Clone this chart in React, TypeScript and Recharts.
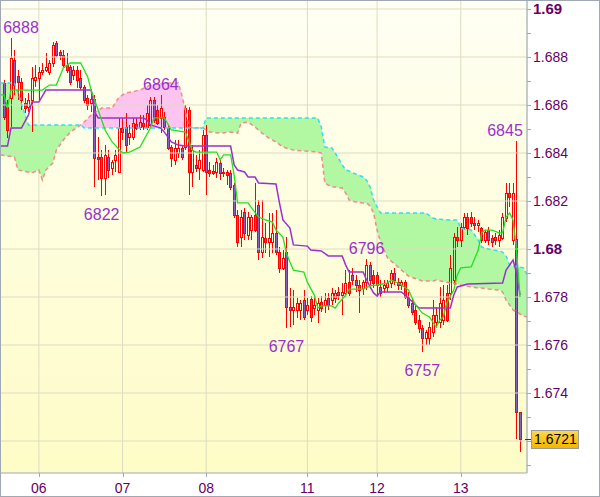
import React from "react";
import { ComposedChart, XAxis, YAxis, CartesianGrid, Bar, Line, Area, Scatter, ReferenceLine } from "recharts";

const FONT = "Arial, 'Liberation Sans', Helvetica, sans-serif";

// ---------- candles (hourly bars) ----------
const opens = [
  1.68692,1.68592,1.68629,1.68787,1.68721,1.68696,1.68608,1.68592,1.68621,1.68704,
  1.68712,1.68737,1.68746,1.68737,1.68775,1.68858,1.68821,1.68808,1.68767,1.68758,
  1.68725,1.68746,1.68712,1.68675,1.68629,1.68608,1.68625,1.68383,1.68383,1.68296,
  1.68383,1.68337,1.68371,1.68321,1.68504,1.68508,1.68467,1.68467,1.68521,1.68508,
  1.68525,1.68508,1.68517,1.68621,1.68579,1.68546,1.6855,1.68504,1.68425,1.68371,
  1.684,1.68421,1.68425,1.68579,1.68321,1.6835,1.68337,1.68329,1.68475,1.68329,
  1.68325,1.68321,1.68358,1.68321,1.68321,1.68317,1.68267,1.68142,1.6805,1.68154,
  1.68058,1.68079,1.68142,1.68183,1.67988,1.68046,1.68029,1.68029,1.68067,1.67988,
  1.67921,1.67988,1.67758,1.67746,1.67746,1.67746,1.67787,1.67746,1.67792,1.67754,
  1.67746,1.67779,1.67767,1.67796,1.67787,1.67796,1.67821,1.67808,1.67817,1.67862,
  1.67892,1.67871,1.6785,1.67837,1.67862,1.67933,1.67892,1.67892,1.67842,1.67837,
  1.67842,1.67858,1.679,1.67862,1.6785,1.67862,1.678,1.67775,1.67746,1.67704,
  1.67671,1.67629,1.67629,1.67654,1.67696,1.67696,1.67704,1.67817,1.67817,1.67871,
  1.6805,1.68037,1.68092,1.68133,1.68133,1.68108,1.681,1.68087,1.68037,1.68079,
  1.68046,1.6805,1.68037,1.68046,1.68129,1.68233,1.68037,1.68042,1.67321,
];
const highs = [
  1.68704,1.68621,1.6888,1.68829,1.68746,1.68712,1.68629,1.6865,1.68758,1.68767,
  1.68758,1.68775,1.68817,1.68787,1.68862,1.68867,1.68829,1.68829,1.68817,1.68767,
  1.68762,1.68762,1.68746,1.68683,1.68642,1.6865,1.68642,1.68467,1.68412,1.68433,
  1.68412,1.68371,1.68412,1.68546,1.68546,1.68567,1.68517,1.68546,1.68546,1.68558,
  1.68558,1.686,1.68633,1.68633,1.686,1.6864,1.68571,1.68517,1.68433,1.68454,
  1.68454,1.68433,1.686,1.68592,1.68433,1.68392,1.68412,1.68496,1.68517,1.68362,
  1.6835,1.68379,1.68371,1.68337,1.68329,1.68329,1.68275,1.68162,1.68162,1.68171,
  1.68154,1.68142,1.68275,1.68204,1.68204,1.68108,1.6815,1.6815,1.68162,1.68008,
  1.67996,1.6805,1.67837,1.67829,1.67796,1.67787,1.67829,1.67796,1.67804,1.678,
  1.67796,1.67804,1.67817,1.67817,1.67837,1.67829,1.67842,1.67858,1.67912,1.67912,
  1.67921,1.67892,1.67871,1.67871,1.6796,1.67946,1.67912,1.67904,1.67871,1.67871,
  1.67871,1.67912,1.67921,1.67879,1.67871,1.67871,1.67821,1.67796,1.67767,1.67725,
  1.67683,1.67662,1.67696,1.67787,1.67758,1.67842,1.6785,1.6785,1.67975,1.68067,
  1.68092,1.68108,1.6815,1.6815,1.68154,1.68133,1.68121,1.68092,1.68079,1.68092,
  1.68058,1.68067,1.68079,1.6815,1.68275,1.68275,1.68275,1.6845,1.67321,
];
const lows = [
  1.68537,1.68462,1.68508,1.68642,1.68621,1.68579,1.68567,1.68571,1.68487,1.68675,
  1.68621,1.68725,1.68737,1.68725,1.68758,1.688,1.68787,1.68758,1.68733,1.68683,
  1.68704,1.68671,1.68662,1.68608,1.68579,1.68571,1.68258,1.68287,1.6822,1.68225,
  1.68296,1.68308,1.68321,1.68317,1.68454,1.68404,1.68433,1.68454,1.68496,1.68496,
  1.68496,1.68496,1.68508,1.68525,1.68517,1.68483,1.68496,1.68412,1.68342,1.6835,
  1.68379,1.68371,1.68412,1.68225,1.68258,1.68321,1.68287,1.68321,1.68225,1.683,
  1.68308,1.68296,1.68287,1.683,1.68267,1.68246,1.68129,1.68008,1.68008,1.68037,
  1.68037,1.68037,1.68071,1.67954,1.67963,1.67983,1.67967,1.67983,1.67975,1.679,
  1.67912,1.6767,1.67675,1.67683,1.67712,1.67704,1.67704,1.67725,1.67696,1.67725,
  1.67692,1.67737,1.67733,1.67746,1.67767,1.67775,1.67787,1.67725,1.678,1.67804,
  1.6785,1.67821,1.67733,1.67808,1.67829,1.6785,1.67837,1.678,1.678,1.67817,
  1.67821,1.67837,1.6785,1.67829,1.67829,1.67792,1.67754,1.67725,1.67683,1.6765,
  1.6757,1.676,1.676,1.67633,1.67671,1.67671,1.67683,1.67696,1.67787,1.6785,
  1.68008,1.68008,1.68079,1.68058,1.68092,1.68079,1.68071,1.68025,1.68025,1.68017,
  1.68008,1.68017,1.68008,1.68037,1.68112,1.68175,1.68017,1.6721,1.67154,
];
const closes = [
  1.6855,1.68496,1.68796,1.68683,1.68696,1.68621,1.68587,1.68621,1.68712,1.68717,
  1.68737,1.68746,1.68758,1.68775,1.6885,1.68808,1.68808,1.68767,1.68746,1.68696,
  1.68746,1.68704,1.68675,1.68621,1.686,1.68625,1.68379,1.68375,1.68296,1.68392,
  1.68329,1.68362,1.68392,1.68504,1.68487,1.68433,1.68483,1.68525,1.68504,1.68529,
  1.68512,1.68567,1.68621,1.68537,1.68525,1.68587,1.68508,1.68421,1.68379,1.68421,
  1.68421,1.68383,1.68587,1.68321,1.68412,1.68337,1.68371,1.68475,1.68321,1.68317,
  1.68317,1.68362,1.68317,1.68317,1.68308,1.68258,1.68142,1.68029,1.68133,1.68067,
  1.68133,1.68133,1.68079,1.67988,1.6805,1.68029,1.68046,1.68067,1.67988,1.67921,
  1.67963,1.67758,1.67746,1.67758,1.67775,1.67775,1.67717,1.67767,1.67717,1.67767,
  1.67775,1.67754,1.67787,1.67767,1.67817,1.67817,1.67808,1.67821,1.67858,1.67817,
  1.67871,1.6785,1.67829,1.67862,1.67933,1.67871,1.67858,1.6785,1.67817,1.6785,
  1.67858,1.679,1.67871,1.6785,1.67862,1.678,1.67767,1.67737,1.67696,1.67671,
  1.67629,1.67654,1.67675,1.67725,1.67725,1.67775,1.67787,1.67704,1.67921,1.6805,
  1.68037,1.68092,1.68133,1.68087,1.68108,1.681,1.68108,1.68037,1.68071,1.68037,
  1.68029,1.68037,1.68058,1.68133,1.68233,1.68217,1.68233,1.67321,1.6721,
];

// ---------- Ichimoku lines (bar index, value) ----------
const tenkanIdx = [-1,0,1,2,11,13,15,17,19,22,24,25,27,29,31,34,36,39,42,43,46,48,52,54,55,61,62,63,65,66,67,70,71,73,75,77,78,80,81,82,83,86,87,89,90,91,94,95,96,98,99,103,105,107,110,111,113,114,116,118,120,122,124,125,126,127,129,130,131,134,136,137,138,140,142,143,144,145,146,147,148];
const tenkanVal = [1.68642,1.68642,1.68588,1.68662,1.68662,1.68683,1.68683,1.68754,1.68775,1.68775,1.68717,1.68662,1.68579,1.68496,1.68446,1.684,1.68404,1.68425,1.68504,1.68546,1.68546,1.68496,1.68487,1.68412,1.68404,1.68404,1.68371,1.68392,1.68392,1.68308,1.68192,1.68192,1.68171,1.68133,1.68121,1.68112,1.68079,1.6805,1.67983,1.67946,1.67912,1.67904,1.67862,1.67808,1.67754,1.67763,1.67763,1.67754,1.67775,1.67808,1.67833,1.67833,1.67846,1.6785,1.67858,1.67871,1.67858,1.6785,1.67829,1.67767,1.67733,1.67717,1.67675,1.67704,1.67717,1.67775,1.67829,1.67892,1.67921,1.67925,1.67996,1.68067,1.68079,1.68079,1.68067,1.68067,1.68133,1.6815,1.68121,1.67996,1.678];

const kijunIdx = [-1,1,2,5,7,8,10,12,25,26,27,40,41,42,45,46,48,50,52,65,66,67,69,70,72,73,78,79,80,82,83,87,88,91,93,97,98,99,103,104,105,106,107,108,114,116,119,128,129,130,133,143,144,146,147,148];
const kijunVal = [1.68429,1.68429,1.68504,1.68504,1.68558,1.68612,1.68612,1.68662,1.68662,1.68571,1.68546,1.68546,1.68537,1.68517,1.68504,1.68487,1.68446,1.68433,1.68429,1.68429,1.6835,1.68329,1.68321,1.683,1.683,1.68275,1.68271,1.68192,1.68121,1.68087,1.68017,1.68012,1.67996,1.67992,1.67971,1.67971,1.67933,1.67904,1.67904,1.67871,1.67842,1.67817,1.67804,1.67821,1.67821,1.67796,1.67754,1.67754,1.67808,1.67842,1.67854,1.67858,1.67912,1.67954,1.679,1.67808];

// ---------- Cloud (Senkou span A / B) ----------
const cloudIdx = [-1,3,4,7,8,10,11,12,14,15,17,19,22,23,25,28,31,33,35,39,42,47,50,51,52,53,56,57,58,59,62,65,67,68,70,72,74,76,78,80,83,90,91,92,94,95,97,98,99,100,101,103,104,105,106,107,108,110,114,116,120,121,123,124,128,130,131,132,134,136,137,139,142,143,144,145,146,149,150];
const spanA = [1.68692,1.68692,1.6865,1.68517,1.68517,1.68517,1.68517,1.68517,1.68517,1.68517,1.68517,1.68517,1.68517,1.68504,1.68504,1.68504,1.68504,1.68504,1.68504,1.68504,1.68504,1.68504,1.68504,1.68504,1.68504,1.68504,1.68504,1.68504,1.68546,1.68546,1.68546,1.68546,1.68546,1.68546,1.68546,1.68546,1.68546,1.68546,1.68546,1.68546,1.68546,1.68546,1.68508,1.68425,1.68421,1.684,1.6835,1.68329,1.68325,1.68317,1.68312,1.683,1.68287,1.68258,1.68204,1.68175,1.6815,1.6815,1.6815,1.6815,1.6815,1.6815,1.68129,1.68125,1.68121,1.68121,1.68087,1.68083,1.68079,1.68037,1.68008,1.68,1.67992,1.67987,1.67971,1.67933,1.67929,1.67921,1.67892];
const spanB = [1.68392,1.68383,1.68329,1.68321,1.68317,1.68329,1.68287,1.68329,1.68358,1.68412,1.68454,1.68487,1.68517,1.68529,1.68558,1.68587,1.68587,1.68633,1.6865,1.68662,1.68683,1.68692,1.68692,1.68642,1.68579,1.68508,1.68504,1.68504,1.68496,1.68487,1.68483,1.68487,1.68483,1.68525,1.68529,1.68508,1.68483,1.68462,1.68446,1.68425,1.68412,1.68404,1.684,1.68275,1.68258,1.68258,1.68254,1.68233,1.68204,1.682,1.68196,1.68192,1.68192,1.68179,1.6815,1.68079,1.68029,1.67963,1.67912,1.67887,1.67867,1.67867,1.67867,1.67871,1.67858,1.67854,1.6785,1.67846,1.67842,1.67837,1.67837,1.67833,1.67829,1.67821,1.67787,1.67767,1.67746,1.67721,1.67717];

// ---------- swing labels ----------
const pivotIdx = [2, 45, 28, 81, 104, 120, 147];
const pivotVal = [1.6888, 1.6864, 1.6822, 1.6767, 1.6796, 1.6757, 1.6845];
const pivotText = ["6888", "6864", "6822", "6767", "6796", "6757", "6845"];
const pivotAbove = [true, true, false, false, true, false, true];

// ---------- axes ----------
const dayIdx = [10, 34, 58, 87, 107, 131];
const dayLabels = ["06", "07", "08", "11", "12", "13"];
const yMajor = [1.672, 1.674, 1.676, 1.678, 1.68, 1.682, 1.684, 1.686, 1.688, 1.69];
const yMajorLabels = ["1.672", "1.674", "1.676", "1.678", "1.68", "1.682", "1.684", "1.686", "1.688", "1.69"];
const yMinor = [1.671, 1.673, 1.675, 1.677, 1.679, 1.681, 1.683, 1.685, 1.687, 1.689];
const lastPrice = 1.6721;

const candleRows = opens.map((o, i) => ({ i, o, h: highs[i], l: lows[i], c: closes[i] }));
const tenkanRows = tenkanIdx.map((i, k) => ({ i, v: tenkanVal[k] }));
const kijunRows = kijunIdx.map((i, k) => ({ i, v: kijunVal[k] }));
const cloudRows = cloudIdx.map((i, k) => ({ i, a: spanA[k], b: spanB[k] }));
const pivotRows = pivotIdx.map((i, k) => ({ i, p: pivotVal[k], text: pivotText[k], above: pivotAbove[k] }));
const yTicks = [...yMinor, ...yMajor].sort((a, b) => a - b).concat([lastPrice]);

const PLOT_R = 527;
const PLOT_B = 473;

const Candle = (props: any) => {
  const { x, y, width, height, payload } = props;
  if (payload == null || x == null) return null;
  const cxi = Math.round(x + width / 2);
  const top = Math.min(y, y + height);
  const hh = Math.abs(height);
  const { o, h, l, c } = payload;
  const k = h > l ? hh / (h - l) : 0;
  const yO = top + (h - o) * k;
  const yC = top + (h - c) * k;
  const bTop = Math.round(Math.min(yO, yC));
  let bBot = Math.round(Math.max(yO, yC));
  if (bBot - bTop < 1) bBot = bTop + 1;
  const bear = c < o;
  const wx = cxi + 0.5;
  return (
    <g>
      <line x1={wx} x2={wx} y1={Math.round(top)} y2={bTop} stroke="#ff0000" strokeWidth={1} />
      <line x1={wx} x2={wx} y1={bBot} y2={Math.round(top + hh)} stroke="#ff0000" strokeWidth={1} />
      <rect x={cxi - 0.5} y={bTop + 0.5} width={2} height={bBot - bTop} fill={bear ? "#8a60c0" : "none"} stroke="#ff0000" strokeWidth={1} />
    </g>
  );
};

const PivotLabel = (props: any) => {
  const { cx, cy, payload } = props;
  if (cx == null || cy == null) return null;
  const tx = Math.min(Math.max(cx, 21), 505);
  const ty = payload.above ? cy - 5 : cy + 24;
  return (
    <text x={tx} y={ty} textAnchor="middle" fontSize={16} fontFamily={FONT} fill="#9932cc">
      {payload.text}
    </text>
  );
};

const YTick = (props: any) => {
  const { y, payload } = props;
  const v = payload.value;
  if (Math.abs(v - lastPrice) < 1e-9) {
    return (
      <g>
        <defs>
          <linearGradient id="goldBox" x1="0" y1="0" x2="0" y2="1">
            <stop offset="0" stopColor="#ffd84a" />
            <stop offset="1" stopColor="#f2b400" />
          </linearGradient>
        </defs>
        <line x1={PLOT_R - 2} x2={PLOT_R + 5} y1={Math.round(y) + 0.5} y2={Math.round(y) + 0.5} stroke="#800080" strokeWidth={1} />
        <rect x={531.5} y={Math.round(y) - 8.5} width={47} height={18} fill="url(#goldBox)" stroke="#9a9a9a" strokeWidth={1} />
        <text x={534} y={Math.round(y) + 5} fontSize={14} fontFamily={FONT} fill="#000000">
          {lastPrice.toFixed(4)}
        </text>
      </g>
    );
  }
  const mi = yMajor.findIndex((m) => Math.abs(m - v) < 1e-9);
  const yy = Math.round(y) + 0.5;
  const label = mi >= 0 ? yMajorLabels[mi] : null;
  const bold = label != null && label.length === 4;
  return (
    <g>
      <line x1={PLOT_R} x2={PLOT_R + 4} y1={yy} y2={yy} stroke="#a0a8b8" strokeWidth={1} />
      {label && mi > 0 ? (
        <text x={533} y={Math.round(y) + 5} fontSize={bold ? 15 : 14} fontWeight={bold ? "bold" : "normal"} fontFamily={FONT} fill="#660066">
          {label}
        </text>
      ) : null}
    </g>
  );
};

const XTick = (props: any) => {
  const { x, payload } = props;
  const k = dayIdx.indexOf(payload.value);
  const xx = Math.round(x) + 0.5;
  return (
    <g>
      <line x1={xx} x2={xx} y1={PLOT_B} y2={PLOT_B + 4} stroke="#a0a8b8" strokeWidth={1} />
      <text x={x} y={PLOT_B + 20} textAnchor="middle" fontSize={14} fontFamily={FONT} fill="#660066">
        {k >= 0 ? dayLabels[k] : ""}
      </text>
    </g>
  );
};

const greenRange = (d: any) => (d.a >= d.b ? [d.b, d.a] : [d.a, d.a]);
const pinkRange = (d: any) => (d.a < d.b ? [d.a, d.b] : [d.b, d.b]);

export default function App() {
  return (
    <div style={{ position: "absolute", left: 0, top: 0, width: 600, height: 497, background: "#ffffff", overflow: "hidden" }}>
      <div
        style={{
          position: "absolute",
          left: 0,
          top: 0,
          width: PLOT_R,
          height: PLOT_B,
          background: "linear-gradient(#fffff4, #fefcc6)",
        }}
      />
      <div style={{ position: "absolute", left: 0, top: 0 }}>
        <ComposedChart width={600} height={497} data={candleRows} margin={{ top: 1, right: 0, bottom: 0, left: 0 }}>
          <CartesianGrid horizontal={false} vertical={true} stroke="#dcdcc2" strokeWidth={1} />
          {yMajor.map((v) => (
            <ReferenceLine key={"g" + v} y={v} stroke="#dcdcc2" strokeWidth={1} ifOverflow="extendDomain" />
          ))}
          <XAxis
            type="number"
            dataKey="i"
            domain={[-1.15, 150]}
            allowDataOverflow
            ticks={dayIdx}
            interval={0}
            height={24}
            axisLine={{ stroke: "#a0a8b8" }}
            tickLine={false}
            tick={<XTick />}
          />
          <YAxis
            type="number"
            orientation="right"
            domain={[1.6706667, 1.6903333]}
            allowDataOverflow
            ticks={yTicks}
            interval={0}
            width={73}
            axisLine={{ stroke: "#a0a8b8" }}
            tickLine={false}
            tick={<YTick />}
          />
          <Area data={cloudRows} dataKey={greenRange} type="linear" fill="#b2f7a2" fillOpacity={1} stroke="none" isAnimationActive={false} activeDot={false} />
          <Area data={cloudRows} dataKey={pinkRange} type="linear" fill="#fcc4ee" fillOpacity={1} stroke="none" isAnimationActive={false} activeDot={false} />
          <Line data={cloudRows} dataKey="b" type="linear" stroke="#f08c8c" strokeWidth={1.5} strokeDasharray="4 3" dot={false} activeDot={false} isAnimationActive={false} />
          <Line data={cloudRows} dataKey="a" type="linear" stroke="#2ee0f0" strokeWidth={1.5} strokeDasharray="4 3" dot={false} activeDot={false} isAnimationActive={false} />
          <Line data={kijunRows} dataKey="v" type="linear" stroke="#9b30d0" strokeWidth={1.5} dot={false} activeDot={false} isAnimationActive={false} />
          <Line data={tenkanRows} dataKey="v" type="linear" stroke="#22e022" strokeWidth={1.3} dot={false} activeDot={false} isAnimationActive={false} />
          <Bar dataKey={(d: any) => [d.l, d.h]} barSize={3} shape={<Candle />} isAnimationActive={false} />
          <Scatter data={pivotRows} dataKey="p" shape={<PivotLabel />} isAnimationActive={false} />
        </ComposedChart>
      </div>
      <div
        style={{
          position: "absolute",
          left: 0,
          top: 0,
          width: 600,
          height: 497,
          boxSizing: "border-box",
          border: "1px solid #a0a8b4",
          pointerEvents: "none",
        }}
      />
    </div>
  );
}
